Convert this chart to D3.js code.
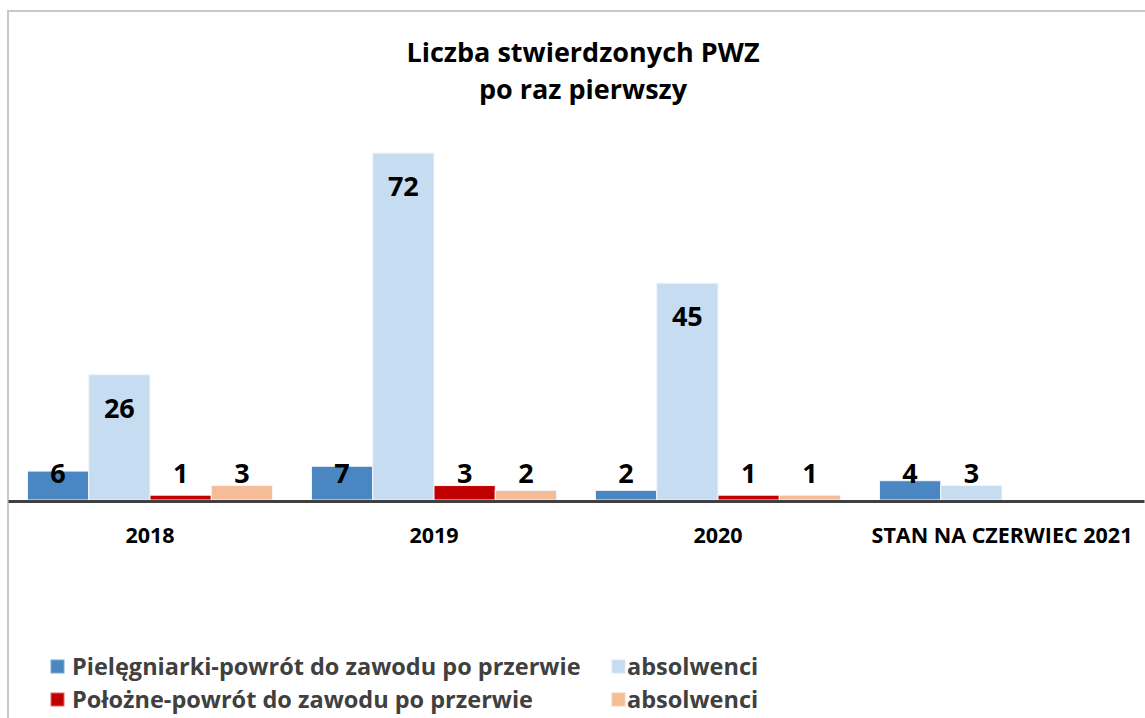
<!DOCTYPE html>
<html>
<head>
<meta charset="utf-8">
<script src="https://cdn.jsdelivr.net/npm/d3@7"></script>
<style>
  body { margin: 0; background: #fff; }
  text { font-family: "Open Sans", sans-serif; font-weight: bold; }
</style>
</head>
<body>
<div id="chart-area"></div>
<script>
var categories = ["2018", "2019", "2020", "STAN NA CZERWIEC 2021"];
var seriesNames = ["Pielęgniarki-powrót do zawodu po przerwie", "absolwenci", "Położne-powrót do zawodu po przerwie", "absolwenci"];
var nurseReturn = [6, 7, 2, 4];
var nurseGraduates = [26, 72, 45, 3];
var midwifeReturn = [1, 3, 1, null];
var midwifeGraduates = [3, 2, 1, null];
var seriesColors = ["#4a86c1", "#c6dcf0", "#c00000", "#f5bd97"];
var legendBorders = ["#7fa8d4", "#dbe8f5", "#e06666", "#f8d0b4"];

var width = 1145, height = 718;
var baseline = 500;

var svg = d3.select("#chart-area").append("svg")
    .attr("width", width)
    .attr("height", height);

// frame of the chart
svg.append("rect")
    .attr("x", 8).attr("y", 11)
    .attr("width", 1160).attr("height", 740)
    .attr("fill", "#fff")
    .attr("stroke", "#c8c8c8")
    .attr("stroke-width", 2);

// title
svg.append("text")
    .attr("x", 583).attr("y", 62)
    .attr("text-anchor", "middle")
    .style("font-size", "27px")
    .text("Liczba stwierdzonych PWZ");
svg.append("text")
    .attr("x", 583).attr("y", 99)
    .attr("text-anchor", "middle")
    .style("font-size", "27px")
    .text("po raz pierwszy");

var allSeries = [nurseReturn, nurseGraduates, midwifeReturn, midwifeGraduates];

var x0 = d3.scaleBand()
    .domain(categories)
    .range([8, 1144])
    .paddingInner(0.137)
    .paddingOuter(0.0685);

var x1 = d3.scaleBand()
    .domain(d3.range(allSeries.length))
    .range([0, x0.bandwidth()]);

var y = d3.scaleLinear()
    .domain([0, 72])
    .range([baseline, 153]);

var bars = [];
categories.forEach(function(c, i) {
    allSeries.forEach(function(s, j) {
        if (s[i] !== null) {
            bars.push({ cat: c, series: j, value: s[i] });
        }
    });
});

svg.selectAll("rect.bar")
    .data(bars)
    .enter()
    .append("rect")
    .attr("class", "bar")
    .attr("x", function(d) { return x0(d.cat) + x1(d.series); })
    .attr("y", function(d) { return y(d.value); })
    .attr("width", x1.bandwidth())
    .attr("height", function(d) { return baseline - y(d.value); })
    .attr("fill", function(d) { return seriesColors[d.series]; })
    .attr("stroke", "#f2f6fb")
    .attr("stroke-width", 1);

// x axis
var xAxis = svg.append("g")
    .attr("transform", "translate(0," + (baseline + 1) + ")")
    .call(d3.axisBottom(x0).tickSize(0).tickSizeOuter(0));

xAxis.select(".domain")
    .attr("stroke", "#404040")
    .attr("stroke-width", 3);

xAxis.selectAll(".tick text")
    .attr("y", 42)
    .attr("dy", null)
    .attr("fill", "#000")
    .style("font-family", "'Open Sans', sans-serif")
    .style("font-weight", "bold")
    .style("font-size", "21.5px");

// value labels
svg.selectAll("text.value")
    .data(bars)
    .enter()
    .append("text")
    .attr("class", "value")
    .attr("x", function(d) { return x0(d.cat) + x1(d.series) + x1.bandwidth() / 2; })
    .attr("y", function(d) { return Math.min(y(d.value) + 43, baseline - 17); })
    .attr("text-anchor", "middle")
    .attr("fill", "#000")
    .style("font-size", "27px")
    .text(function(d) { return d.value; });

// legend
var legendPos = [
    { x: 50, y: 675 },
    { x: 611, y: 675 },
    { x: 50, y: 708 },
    { x: 611, y: 708 }
];

var legend = svg.selectAll("g.legend")
    .data(seriesNames)
    .enter()
    .append("g")
    .attr("class", "legend")
    .attr("transform", function(d, i) { return "translate(" + legendPos[i].x + "," + legendPos[i].y + ")"; });

legend.append("rect")
    .attr("x", 1).attr("y", -15)
    .attr("width", 13).attr("height", 13)
    .attr("fill", function(d, i) { return seriesColors[i]; })
    .attr("stroke", function(d, i) { return legendBorders[i]; })
    .attr("stroke-width", 1);

legend.append("text")
    .attr("x", function(d, i) { return i % 2 === 0 ? 22 : 16; })
    .attr("y", 0)
    .attr("fill", "#404040")
    .style("font-size", "23.5px")
    .text(function(d) { return d; });
</script>
</body>
</html>
